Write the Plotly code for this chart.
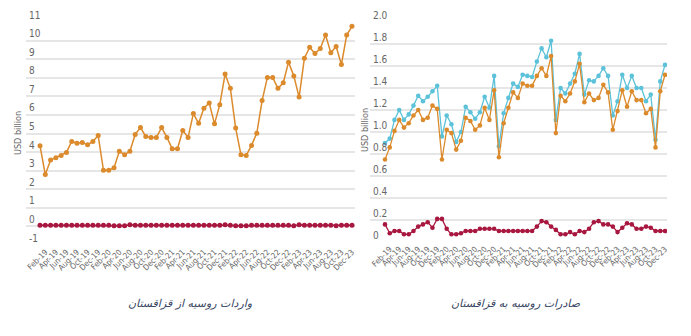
import plotly.graph_objects as go

# ---------------- data ----------------
month_names = ["Jan", "Feb", "Mar", "Apr", "May", "Jun",
               "Jul", "Aug", "Sep", "Oct", "Nov", "Dec"]
years = ["19", "20", "21", "22", "23"]
months = [f"{m}-{y}" for y in years for m in month_names]   # Jan-19 .. Dec-23
tick_labels = months[1::2]                                   # Feb-19, Apr-19, ... Dec-23

# Left panel: Russia's imports from Kazakhstan (USD billion)
left_orange = [4.34, 2.79, 3.57, 3.70, 3.82, 3.98, 4.57, 4.48, 4.52, 4.39,
               4.57, 4.89, 3.02, 3.02, 3.16, 4.04, 3.86, 4.04, 4.95, 5.32,
               4.84, 4.79, 4.79, 5.32, 4.79, 4.18, 4.18, 5.16, 4.79, 6.07,
               5.55, 6.36, 6.64, 5.52, 6.55, 8.20, 7.43, 5.29, 3.86, 3.82,
               4.36, 5.02, 6.77, 8.02, 8.02, 7.43, 7.73, 8.84, 8.09, 6.96,
               9.05, 9.64, 9.30, 9.57, 10.30, 9.34, 9.68, 8.71, 10.30, 10.77]
left_red = [0.06, 0.06, 0.06, 0.06, 0.06, 0.06, 0.06, 0.06, 0.06, 0.06,
            0.06, 0.06, 0.06, 0.06, 0.03, 0.03, 0.03, 0.09, 0.06, 0.06,
            0.06, 0.06, 0.06, 0.06, 0.06, 0.06, 0.06, 0.06, 0.06, 0.06,
            0.06, 0.06, 0.06, 0.06, 0.06, 0.09, 0.06, 0.03, 0.03, 0.03,
            0.06, 0.06, 0.06, 0.06, 0.06, 0.06, 0.06, 0.06, 0.03, 0.09,
            0.06, 0.06, 0.06, 0.06, 0.06, 0.06, 0.03, 0.06, 0.06, 0.06]

# Right panel: Russia's exports to Kazakhstan (USD billion)
right_blue = [0.90, 0.94, 1.11, 1.20, 1.11, 1.16, 1.24, 1.33, 1.28, 1.32,
              1.37, 1.42, 0.96, 1.15, 1.07, 0.91, 1.00, 1.23, 1.18, 1.12,
              1.18, 1.32, 1.22, 1.51, 0.87, 1.17, 1.31, 1.44, 1.41, 1.52,
              1.51, 1.50, 1.64, 1.76, 1.68, 1.83, 1.11, 1.40, 1.35, 1.44,
              1.53, 1.71, 1.34, 1.47, 1.46, 1.51, 1.58, 1.51, 1.15, 1.28,
              1.52, 1.40, 1.51, 1.40, 1.40, 1.28, 1.34, 0.93, 1.46, 1.61]
right_orange = [0.75, 0.86, 1.01, 1.11, 1.04, 1.08, 1.15, 1.20, 1.11, 1.13,
                1.24, 1.21, 0.75, 1.02, 0.99, 0.84, 0.92, 1.13, 1.10, 1.02,
                1.06, 1.22, 1.11, 1.38, 0.77, 1.08, 1.22, 1.36, 1.31, 1.44,
                1.42, 1.42, 1.51, 1.58, 1.51, 1.69, 0.99, 1.33, 1.28, 1.35,
                1.46, 1.62, 1.27, 1.35, 1.29, 1.31, 1.43, 1.36, 1.02, 1.19,
                1.38, 1.23, 1.37, 1.29, 1.29, 1.17, 1.21, 0.86, 1.37, 1.52]
right_red = [0.16, 0.08, 0.10, 0.10, 0.07, 0.07, 0.10, 0.14, 0.16, 0.18,
             0.13, 0.21, 0.21, 0.12, 0.07, 0.07, 0.08, 0.10, 0.10, 0.10,
             0.12, 0.12, 0.12, 0.12, 0.10, 0.10, 0.10, 0.10, 0.10, 0.10,
             0.10, 0.10, 0.14, 0.19, 0.18, 0.14, 0.11, 0.07, 0.07, 0.09,
             0.07, 0.10, 0.09, 0.12, 0.18, 0.19, 0.16, 0.16, 0.14, 0.09,
             0.13, 0.17, 0.16, 0.12, 0.12, 0.14, 0.13, 0.10, 0.10, 0.10]

left_yticks = list(range(-1, 12))
right_yticks = [0, 0.2, 0.4, 0.6, 0.8, 1.0, 1.2, 1.4, 1.6, 1.8, 2.0]
right_yticktext = ["0", "0.2", "0.4", "0.6", "0.8", "1.0", "1.2", "1.4", "1.6", "1.8", "2.0"]

left_title = "واردات روسیه از قزاقستان"
right_title = "صادرات روسیه به قزاقستان"
unit = "USD billion"

# ---------------- style ----------------
ORANGE = "#DB8A2C"
BLUE = "#5CC2DA"
RED = "#A8173F"
GRID = "#E6E6E6"
TICK = "#666666"
NARROW = "Liberation Sans Narrow, DejaVu Sans Condensed, Arial Narrow, sans-serif"

W, H = 691, 336


def px_x(p):
    return p / W


def px_y(p):
    return 1 - p / H


fig = go.Figure()


def add_series(x, y, color, xa, ya, lw=1.5, ms=5):
    fig.add_trace(go.Scatter(
        x=x, y=y, mode="lines+markers",
        line=dict(color=color, width=lw),
        marker=dict(color=color, size=ms),
        xaxis=xa, yaxis=ya, showlegend=False, hoverinfo="x+y",
    ))


add_series(months, left_orange, ORANGE, "x", "y")
add_series(months, left_red, RED, "x", "y")
add_series(months, right_blue, BLUE, "x2", "y2", lw=1.3, ms=4.6)
add_series(months, right_orange, ORANGE, "x2", "y2", lw=1.3, ms=4.6)
add_series(months, right_red, RED, "x2", "y2", lw=1.3, ms=4.6)

xcommon = dict(type="category", categoryorder="array", categoryarray=months,
               tickmode="array", tickvals=tick_labels, ticktext=tick_labels,
               tickangle=-45, tickfont=dict(family=NARROW, size=8, color=TICK),
               showgrid=False, zeroline=False, showline=False, ticks="",
               automargin=False, fixedrange=True)

ycommon = dict(showgrid=True, gridcolor=GRID, gridwidth=1.5, zeroline=False,
               showline=False, ticks="", ticklabelposition="inside top",
               ticklabeloverflow="allow",
               tickfont=dict(family=NARROW, size=10, color=TICK),
               automargin=False, fixedrange=True)

fig.update_layout(
    width=W, height=H,
    margin=dict(l=0, r=0, t=0, b=0),
    paper_bgcolor="white", plot_bgcolor="white",
    template="none",
    xaxis=dict(domain=[px_x(26), px_x(355)], range=[-2.65, 59.57],
               anchor="y", **xcommon),
    yaxis=dict(domain=[px_y(245), px_y(22)], range=[-1, 11],
               tickmode="array", tickvals=left_yticks,
               ticktext=[str(v) for v in left_yticks],
               anchor="x", **ycommon),
    xaxis2=dict(domain=[px_x(370), px_x(667)], range=[-3.16, 59.42],
                anchor="y2", **xcommon),
    yaxis2=dict(domain=[px_y(242), px_y(22)], range=[0, 2.0],
                tickmode="array", tickvals=right_yticks, ticktext=right_yticktext,
                anchor="x2", **ycommon),
    annotations=[
        dict(text=unit, x=px_x(18), y=px_y(133), xref="paper", yref="paper",
             textangle=-90, showarrow=False, xanchor="center", yanchor="middle",
             font=dict(family=NARROW, size=9, color=TICK)),
        dict(text=unit, x=px_x(365), y=px_y(130), xref="paper", yref="paper",
             textangle=-90, showarrow=False, xanchor="center", yanchor="middle",
             font=dict(family=NARROW, size=9, color=TICK)),
        dict(text=f"<i>{left_title}</i>", x=px_x(190), y=px_y(303),
             xref="paper", yref="paper", showarrow=False,
             xanchor="center", yanchor="middle",
             font=dict(family="DejaVu Sans, sans-serif", size=11, color="#3A4663")),
        dict(text=f"<i>{right_title}</i>", x=px_x(516), y=px_y(303),
             xref="paper", yref="paper", showarrow=False,
             xanchor="center", yanchor="middle",
             font=dict(family="DejaVu Sans, sans-serif", size=11, color="#3A4663")),
    ],
)

fig.write_html("out.html")
